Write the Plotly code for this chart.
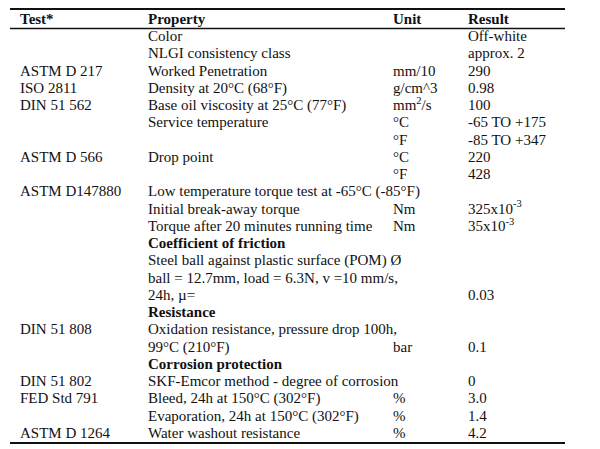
import plotly.graph_objects as go

# ---- table content ----
headers = ["Test*", "Property", "Unit", "Result"]

tests = ["", "", "ASTM D 217", "ISO 2811", "DIN 51 562", "", "", "ASTM D 566", "",
         "ASTM D147880", "", "", "", "", "", "", "", "DIN 51 808", "", "",
         "DIN 51 802", "FED Std 791", "", "ASTM D 1264"]

properties = ["Color", "NLGI consistency class", "Worked Penetration",
              "Density at 20°C (68°F)", "Base oil viscosity at 25°C (77°F)",
              "Service temperature", "", "Drop point", "",
              "Low temperature torque test at -65°C (-85°F)",
              "Initial break-away torque", "Torque after 20 minutes running time",
              "<b>Coefficient of friction</b>",
              "Steel ball against plastic surface (POM) Ø",
              "ball = 12.7mm, load = 6.3N, v =10 mm/s,",
              "24h, µ=",
              "<b>Resistance</b>",
              "Oxidation resistance, pressure drop 100h,",
              "99°C (210°F)",
              "<b>Corrosion protection</b>",
              "SKF-Emcor method - degree of corrosion",
              "Bleed, 24h at 150°C (302°F)",
              "Evaporation, 24h at 150°C (302°F)",
              "Water washout resistance"]

units = ["", "", "mm/10", "g/cm^3", "mm<sup>2</sup>/s", "°C", "°F", "°C", "°F",
         "", "Nm", "Nm", "", "", "", "", "", "", "bar", "", "", "%", "%", "%"]

results = ["Off-white", "approx. 2", "290", "0.98", "100", "-65 TO +175",
           "-85 TO +347", "220", "428", "", "325x10<sup>-3</sup>",
           "35x10<sup>-3</sup>", "", "", "", "0.03", "", "", "0.1", "",
           "0", "3.0", "1.4", "4.2"]

# ---- layout constants ----
PAGE_W, PAGE_H = 600, 449
BODY_MARGIN = 8                      # default browser body margin
W, H = PAGE_W - BODY_MARGIN, PAGE_H - BODY_MARGIN
ROW0_PX = 37.3                       # page-pixel centre of first data row
ROW_STEP = 17.25                     # pixel height of a row
COL_X = [20, 148, 393, 468]          # page-pixel left edges of columns
LINE_X0, LINE_X1 = 10, 565
FONT = dict(family="Liberation Serif, Times New Roman, serif", size=15, color="#111111")

columns = [tests, properties, units, results]

fig = go.Figure()
for ci, col in enumerate(columns):
    rr = [i for i, t in enumerate(col) if t]
    fig.add_trace(go.Scatter(
        x=[COL_X[ci]] * len(rr), y=rr, text=[col[i] for i in rr], mode="text",
        textposition="middle right", textfont=FONT, hoverinfo="skip",
    ))
# header row
fig.add_trace(go.Scatter(
    x=COL_X, y=[-1] * 4, text=[f"<b>{h}</b>" for h in headers], mode="text",
    textposition="middle right", textfont=FONT, hoverinfo="skip",
))

def px_to_row(p):
    return (p - ROW0_PX) / ROW_STEP

for ypx, w in [(9, 2), (28.5, 1.6), (443, 2)]:
    yr = px_to_row(ypx)
    fig.add_shape(type="line", xref="x", yref="y", x0=LINE_X0, x1=LINE_X1,
                  y0=yr, y1=yr, line=dict(color="#111111", width=w))

fig.update_layout(
    width=W, height=H, margin=dict(l=0, r=0, t=0, b=0),
    paper_bgcolor="white", plot_bgcolor="white", showlegend=False,
    xaxis=dict(range=[BODY_MARGIN, PAGE_W], visible=False, fixedrange=True),
    yaxis=dict(range=[px_to_row(PAGE_H), px_to_row(BODY_MARGIN)], visible=False,
               fixedrange=True),
)

fig.write_html("out.html")
